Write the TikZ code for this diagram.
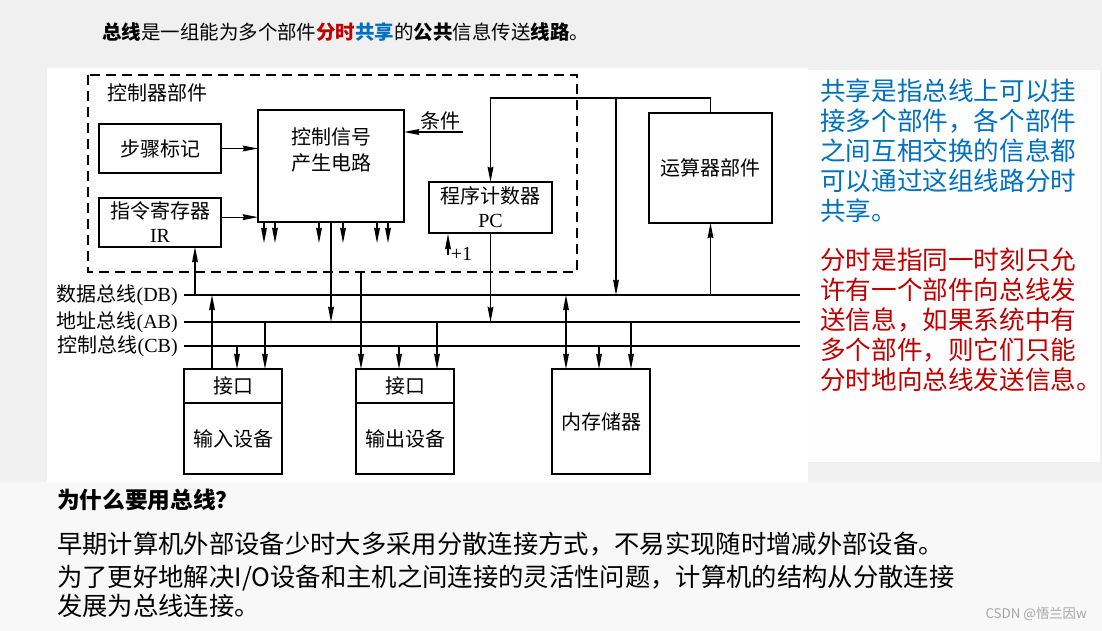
\documentclass[tikz,border=0pt]{standalone}
\usepackage{fontspec}
\setmainfont{Liberation Serif}
\newfontfamily\cjk{Noto Sans CJK SC}
\usetikzlibrary{arrows.meta,positioning}
\definecolor{tipblue}{HTML}{0070C0}
\definecolor{tipred}{HTML}{C00000}
\definecolor{pagegray}{HTML}{F0F0F0}

\begin{document}
\begin{tikzpicture}[x=0.75pt,y=-0.75pt,>=Latex,
  box/.style={draw,line width=1pt,outer sep=0pt,align=center,inner sep=1pt,font=\fontsize{15}{18}\selectfont},
  tipshape/.tip={Stealth[length=11.5pt,width=4.4pt,inset=1pt]},
  arr/.style={line width=0.9pt,-tipshape},
  darr/.style={line width=0.9pt,tipshape-tipshape},
  busline/.style={line width=1pt},
  buslbl/.style={anchor=east,inner sep=0pt,xshift=-4.5pt,font=\fontsize{15}{18}\selectfont},
  tip/.style={anchor=north west,align=left,inner sep=0pt,font=\cjk\fontsize{19.2}{22.5}\selectfont},
  body/.style={anchor=west,inner sep=0pt,font=\cjk\fontsize{19}{22}\selectfont}]

% page
\fill[pagegray] (0,0) rectangle (1102,631);
\fill[white!55!pagegray] (0,482) rectangle (1102,631);
\fill[white] (47,68) rectangle (808,482);
\fill[white!97!pagegray] (808,70) rectangle (1100,462);
\useasboundingbox (0,0) rectangle (1102,631);

\node[anchor=west,inner sep=0pt,font=\cjk\fontsize{14.6}{17}\selectfont] (title) at (102,32)
  {{\bfseries 总线}是一组能为多个部件{\bfseries\color{tipred}分时}{\bfseries\color{tipblue}共享}的{\bfseries 公共}信息传送{\bfseries 线路}。};

% controller
\draw[line width=0.9pt,dash pattern=on 7.5pt off 4.5pt] (88,75) coordinate (unitNW) rectangle (577,272) coordinate (unitSE);
\node[anchor=west,inner sep=0pt,font=\cjk\fontsize{15}{18}\selectfont] (unitlbl) at (107,93) {控制器部件};

\node[box,minimum width=91.5pt,minimum height=36.75pt] (step) at (160,148.5) {\cjk 步骤标记};
\node[box,minimum width=91.5pt,minimum height=36.75pt] (ir) at (160,222.5) {{\cjk 指令寄存器}\\IR};
\node[box,minimum width=109.5pt,minimum height=84pt,font=\cjk\fontsize{15}{19.5}\selectfont] (ctrl) at (331,166) {控制信号\\产生电路\\[6pt]};
\node[box,minimum width=92.25pt,minimum height=38.25pt] (pc) at (490.5,207.5) {{\cjk 程序计数器}\\PC};
\node[box,minimum width=92.25pt,minimum height=82.5pt] (alu) at (710.5,168) {\cjk 运算器部件};

% devices
\node[box,minimum width=73.5pt,minimum height=25.5pt] (inif) at (233,386) {\cjk 接口};
\node[box,minimum width=73.5pt,minimum height=53.25pt,below=0pt of inif] (indev) {\cjk 输入设备};
\node[box,minimum width=73.5pt,minimum height=25.5pt] (outif) at (405,386) {\cjk 接口};
\node[box,minimum width=73.5pt,minimum height=53.25pt,below=0pt of outif] (outdev) {\cjk 输出设备};
\node[box,minimum width=73.5pt,minimum height=78.75pt] (mem) at (601,421.5) {\cjk 内存储器};

% buses
\coordinate (db) at (184,295); \coordinate (dbE) at (800,295);
\coordinate (ab) at (184,322); \coordinate (abE) at (800,322);
\coordinate (cb) at (184,346); \coordinate (cbE) at (800,346);
\draw[busline] (db) -- (dbE);
\draw[busline] (ab) -- (abE);
\draw[busline] (cb) -- (cbE);
\node[buslbl] (dblbl) at (db) {{\cjk 数据总线}(DB)};
\node[buslbl] (ablbl) at (ab) {{\cjk 地址总线}(AB)};
\node[buslbl] (cblbl) at (cb) {{\cjk 控制总线}(CB)};

% inside the controller
\draw[arr] (step.east) -- (step.east -| ctrl.west);
\draw[arr] ([yshift=4pt]ir.east) -- ([yshift=4pt]ir.east -| ctrl.west);
\coordinate (cond) at (463,132);
\draw[arr] (cond) -- (cond -| ctrl.east);
\node[anchor=south east,inner sep=1.5pt,font=\cjk\fontsize{15}{18}\selectfont] (condlbl) at (cond) {条件};
\foreach \dx in {6,17,61,85,119,130}
  \draw[arr] ([shift={(\dx,0)}]ctrl.south west) -- ++(0,21);
\draw[arr] ([shift={(19,22)}]pc.south west) coordinate (inc) -- ++(0,-21);
\node[anchor=north west,inner sep=0pt,xshift=2pt,yshift=6pt,font=\fontsize{15}{18}\selectfont] (inclbl) at (inc) {+1};

% to and from the buses
\draw[arr] ([shift={(96,0)}]ir.south west |- db) -- ([shift={(96,0)}]ir.south west);
\draw[arr] (ctrl.south) -- (ctrl.south |- ab);
\draw[arr] (pc.south) -- (pc.south |- ab);
\coordinate (split) at (616,98);
\draw[arr] (alu.north) |- (pc.north |- split) -- (pc.north);
\draw[arr] (split) -- (split |- db);
\draw[arr] (alu.south |- db) -- (alu.south);
\draw[arr] ([shift={(28,0)}]inif.north west) -- ([shift={(28,0)}]inif.north west |- db);
\draw[arr] ([shift={(5,0)}]outif.north west |- unitSE) -- ([shift={(5,0)}]outif.north west);
\draw[darr] ([shift={(14,0)}]mem.north west |- db) -- ([shift={(14,0)}]mem.north west);
\foreach \n/\dx/\bus in {inif/53/cb, inif/81/ab, outif/43/cb, outif/81/ab, mem/47/cb, mem/79/ab}
  \draw[arr] ([shift={(\dx,0)}]\n.north west |- \bus) -- ([shift={(\dx,0)}]\n.north west);

% notes
\node[tip,text=tipblue] (share) at (820,79) {共享是指总线上可以挂\\接多个部件，各个部件\\之间互相交换的信息都\\可以通过这组线路分时\\共享。};
\node[tip,text=tipred] (tdm) at (820,248) {分时是指同一时刻只允\\许有一个部件向总线发\\送信息，如果系统中有\\多个部件，则它们只能\\分时地向总线发送信息。};

\node[body,font=\cjk\bfseries\fontsize{17}{20}\selectfont] (why) at (57,500) {为什么要用总线？};
\node[body] (line1) at (57,544) {早期计算机外部设备少时大多采用分散连接方式，不易实现随时增减外部设备。};
\node[body] (line2) at (57,578) {为了更好地解决I/O设备和主机之间连接的灵活性问题，计算机的结构从分散连接};
\node[body] (line3) at (57,606) {发展为总线连接。};
\node[anchor=east,inner sep=0pt,text=gray!70,font=\cjk\fontsize{10}{12}\selectfont] (csdn) at (1087,614) {CSDN @悟兰因w};
\end{tikzpicture}
\end{document}
